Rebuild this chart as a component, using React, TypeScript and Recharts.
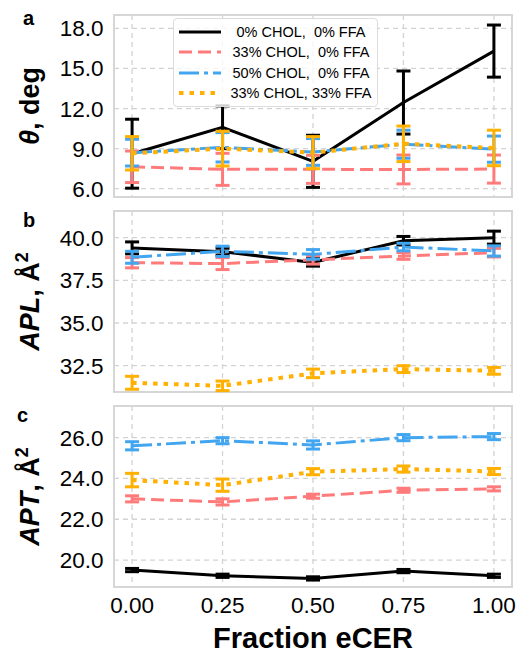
import React from 'react';
import { LineChart, Line, XAxis, YAxis, CartesianGrid, ErrorBar, ReferenceArea, Legend } from 'recharts';

// ---- data ----
const fractions = [0, 0.25, 0.5, 0.75, 1.0];
const xTicks = [0, 0.25, 0.5, 0.75, 1.0];
const seriesLabels = ['0% CHOL,  0% FFA', '33% CHOL,  0% FFA', '50% CHOL,  0% FFA', '33% CHOL, 33% FFA'];

// panel a: tilt angle theta (deg)
const thetaNone = [8.62, 10.6, 8.05, 12.45, 16.3];
const thetaNoneErr = [2.58, 1.6, 1.95, 2.36, 1.95];
const thetaChol33 = [7.64, 7.45, 7.45, 7.44, 7.47];
const thetaChol33Err = [1.18, 1.2, 1.05, 1.08, 1.05];
const thetaChol50 = [8.7, 9.1, 8.75, 9.33, 8.96];
const thetaChol50Err = [1.0, 1.1, 1.0, 1.05, 0.98];
const thetaChol33Ffa33 = [8.65, 9.0, 8.7, 9.36, 9.05];
const thetaChol33Ffa33Err = [1.25, 1.3, 1.2, 1.33, 1.33];
const thetaTicks = [6, 9, 12, 15, 18];

// panel b: area per lipid
const aplNone = [39.4, 39.18, 38.55, 39.82, 40.0];
const aplNoneErr = [0.35, 0.2, 0.22, 0.25, 0.38];
const aplChol33 = [38.53, 38.48, 38.7, 38.93, 39.12];
const aplChol33Err = [0.3, 0.35, 0.25, 0.2, 0.25];
const aplChol50 = [38.85, 39.2, 39.02, 39.45, 39.22];
const aplChol50Err = [0.35, 0.3, 0.28, 0.22, 0.3];
const aplChol33Ffa33 = [31.5, 31.32, 32.05, 32.3, 32.2];
const aplChol33Ffa33Err = [0.38, 0.28, 0.25, 0.2, 0.2];
const aplTicks = [32.5, 35, 37.5, 40];

// panel c: area per tail
const aptNone = [19.51, 19.23, 19.1, 19.46, 19.23];
const aptNoneErr = [0.08, 0.08, 0.08, 0.08, 0.08];
const aptChol33 = [23.0, 22.85, 23.13, 23.42, 23.49];
const aptChol33Err = [0.15, 0.15, 0.1, 0.1, 0.1];
const aptChol50 = [25.6, 25.85, 25.64, 26.0, 26.05];
const aptChol50Err = [0.2, 0.15, 0.2, 0.15, 0.15];
const aptChol33Ffa33 = [23.92, 23.67, 24.33, 24.46, 24.34];
const aptChol33Ffa33Err = [0.33, 0.3, 0.15, 0.15, 0.15];
const aptTicks = [20, 22, 24, 26];

// ---- styles ----
const FONT = '"Liberation Sans", Arial, Helvetica, sans-serif';
const seriesColors = ['#000000', '#ff7b7b', '#42a5ef', '#ffb000'];
const seriesDash: (string | undefined)[] = [undefined, '13 6', '20 5 4 5', '4.5 6'];
const seriesWidth = [3, 3, 3, 4];

function buildRows(values: number[][], errs: number[][]) {
  return fractions.map((x, i) => {
    const row: Record<string, number> = { x };
    values.forEach((v, s) => {
      row['s' + s] = v[i];
      row['e' + s] = errs[s][i];
    });
    return row;
  });
}

const rowsA = buildRows(
  [thetaNone, thetaChol33, thetaChol50, thetaChol33Ffa33],
  [thetaNoneErr, thetaChol33Err, thetaChol50Err, thetaChol33Ffa33Err]
);
const rowsB = buildRows(
  [aplNone, aplChol33, aplChol50, aplChol33Ffa33],
  [aplNoneErr, aplChol33Err, aplChol50Err, aplChol33Ffa33Err]
);
const rowsC = buildRows(
  [aptNone, aptChol33, aptChol50, aptChol33Ffa33],
  [aptNoneErr, aptChol33Err, aptChol50Err, aptChol33Ffa33Err]
);

const YLabel = (props: any) => {
  const vb = props.viewBox || { x: 54, y: 16, width: 60, height: 181 };
  const cx = 39;
  const cy = vb.y + vb.height / 2;
  return (
    <text
      x={cx}
      y={cy}
      transform={`rotate(-90, ${cx}, ${cy})`}
      textAnchor="middle"
      fontSize={27}
      fontWeight="bold"
      fill="#000"
      style={{ fontFamily: FONT }}
    >
      <tspan fontStyle="italic">{props.italic}</tspan>
      <tspan>{props.rest}</tspan>
      {props.sup ? (
        <tspan fontSize={18} dy={-11}>
          {props.sup}
        </tspan>
      ) : null}
    </text>
  );
};

const XLabel = (props: any) => {
  const vb = props.viewBox || { x: 114, y: 587, width: 398, height: 66 };
  return (
    <text
      x={vb.x + vb.width / 2}
      y={vb.y + 61}
      textAnchor="middle"
      fontSize={29}
      fontWeight="bold"
      fill="#000"
      style={{ fontFamily: FONT }}
    >
      Fraction eCER
    </text>
  );
};

const LegendBox = () => (
  <div
    style={{
      width: 205,
      height: 89,
      boxSizing: 'border-box',
      border: '1px solid #dcdcdc',
      borderRadius: 4,
      background: 'rgba(255,255,255,0.8)',
      paddingTop: 3,
      fontFamily: FONT,
    }}
  >
    {seriesLabels.map((name, i) => (
      <div key={i} style={{ display: 'flex', alignItems: 'center', height: 20.3 }}>
        <svg width={52} height={20} style={{ display: 'block' }}>
          <line
            x1={5}
            x2={47}
            y1={10}
            y2={10}
            stroke={seriesColors[i]}
            strokeWidth={seriesWidth[i]}
            strokeDasharray={seriesDash[i]}
          />
        </svg>
        <span
          style={{
            width: 150,
            textAlign: 'center',
            whiteSpace: 'pre',
            fontSize: 14.5,
            color: '#000',
            lineHeight: '20px',
          }}
        >
          {name}
        </span>
      </div>
    ))}
  </div>
);

type PanelProps = {
  top: number;
  height: number;
  marginTop: number;
  marginBottom: number;
  rows: Record<string, number>[];
  domain: [number, number];
  ticks: number[];
  tickDigits: number;
  italic: string;
  rest: string;
  sup?: string;
  showX: boolean;
  legend?: boolean;
};

function Panel(p: PanelProps) {
  return (
    <div style={{ position: 'absolute', left: 0, top: p.top }}>
      <LineChart
        width={519}
        height={p.height}
        data={p.rows}
        margin={{ top: p.marginTop, right: 7, bottom: p.marginBottom, left: 54 }}
      >
        <CartesianGrid stroke="#d3d3d3" strokeDasharray="5 4" strokeWidth={1.3} />
        <XAxis
          type="number"
          dataKey="x"
          domain={[-0.05, 1.05]}
          ticks={xTicks}
          interval={0}
          allowDataOverflow
          hide={!p.showX}
          height={p.showX ? 66 : 0}
          tickFormatter={(v: number) => v.toFixed(2)}
          tickLine={false}
          axisLine={false}
          tickSize={0}
          tickMargin={10}
          tick={{ fill: '#000', fontSize: 22.5 }}
          label={p.showX ? <XLabel /> : undefined}
        />
        <YAxis
          type="number"
          domain={p.domain}
          ticks={p.ticks}
          interval={0}
          allowDataOverflow
          width={60}
          tickFormatter={(v: number) => v.toFixed(p.tickDigits)}
          tickLine={false}
          axisLine={false}
          tickSize={0}
          tickMargin={10.5}
          tick={{ fill: '#000', fontSize: 22.5 }}
          label={<YLabel italic={p.italic} rest={p.rest} sup={p.sup} />}
        />
        <ReferenceArea
          x1={-0.05}
          x2={1.05}
          y1={p.domain[0]}
          y2={p.domain[1]}
          fill="none"
          stroke="#d6d6d6"
          strokeWidth={2}
          ifOverflow="visible"
        />
        {[0, 1, 2, 3].map((s) => (
          <Line
            key={s}
            type="linear"
            dataKey={'s' + s}
            stroke={seriesColors[s]}
            strokeWidth={seriesWidth[s]}
            strokeDasharray={seriesDash[s]}
            dot={false}
            activeDot={false}
            isAnimationActive={false}
            name={seriesLabels[s]}
          >
            <ErrorBar dataKey={'e' + s} direction="y" width={7} stroke={seriesColors[s]} strokeWidth={3} />
          </Line>
        ))}
        {p.legend ? (
          <Legend
            layout="vertical"
            align="center"
            verticalAlign="middle"
            content={<LegendBox />}
            wrapperStyle={{ left: 173, top: 18, width: 205, height: 89 }}
          />
        ) : null}
      </LineChart>
    </div>
  );
}

const PanelLetter = ({ x, y, t }: { x: number; y: number; t: string }) => (
  <text x={x} y={y} fontSize={20} fontWeight="bold" fill="#000" style={{ fontFamily: FONT }}>
    {t}
  </text>
);

export default function App() {
  return (
    <div
      style={{
        position: 'absolute',
        left: 0,
        top: 0,
        width: 519,
        height: 653,
        background: '#fff',
        fontFamily: FONT,
      }}
    >
      <Panel
        top={0}
        height={210}
        marginTop={15}
        marginBottom={13}
        rows={rowsA}
        domain={[5.38, 19.0]}
        ticks={thetaTicks}
        tickDigits={1}
        italic="θ"
        rest=", deg"
        showX={false}
        legend
      />
      <Panel
        top={195}
        height={210}
        marginTop={16}
        marginBottom={13}
        rows={rowsB}
        domain={[30.96, 41.56]}
        ticks={aplTicks}
        tickDigits={1}
        italic="APL"
        rest=", Å"
        sup="2"
        showX={false}
      />
      <Panel
        top={390}
        height={263}
        marginTop={16}
        marginBottom={0}
        rows={rowsC}
        domain={[18.68, 27.55]}
        ticks={aptTicks}
        tickDigits={1}
        italic="APT"
        rest=", Å"
        sup="2"
        showX
      />
      <svg
        width={519}
        height={653}
        style={{ position: 'absolute', left: 0, top: 0, pointerEvents: 'none' }}
      >
        <PanelLetter x={23} y={25} t="a" />
        <PanelLetter x={23} y={227} t="b" />
        <PanelLetter x={17} y={422} t="c" />
      </svg>
    </div>
  );
}
